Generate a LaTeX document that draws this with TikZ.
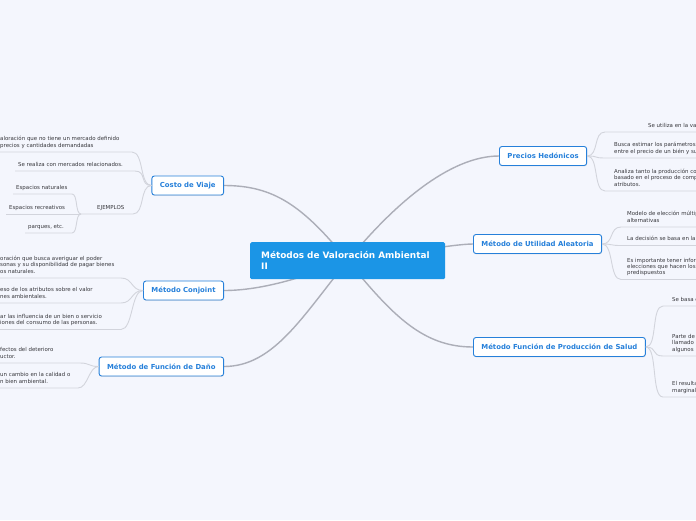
\documentclass[tikz,border=0pt]{standalone}
\usepackage{fontspec}
\setmainfont{DejaVu Sans}
\usetikzlibrary{backgrounds,shadows}

\definecolor{bgcol}{RGB}{244,246,253}
\definecolor{rootblue}{RGB}{27,149,230}
\definecolor{nodeblue}{RGB}{38,128,218}
\definecolor{branchgray}{RGB}{172,174,184}
\definecolor{twiggray}{RGB}{210,212,220}
\definecolor{leaftext}{RGB}{55,55,60}

\newcommand{\leaffont}{\fontsize{5.45}{6.4}\selectfont}
\newcommand{\topicfont}{\fontsize{6.9}{8}\selectfont\bfseries}
\newcommand{\rootfont}{\fontsize{8.9}{11}\selectfont\bfseries}

\begin{document}
\begin{tikzpicture}[x=1pt, y=-1pt,
  root/.style={fill=rootblue, rounded corners=1.5pt, text=white, font=\rootfont,
    anchor=north west, align=left, text width=173pt, inner xsep=11pt,
    minimum height=37pt},
  topic/.style={draw=nodeblue, line width=0.9pt, fill=white, rounded corners=2.5pt,
    text=nodeblue, font=\topicfont, inner xsep=8pt, inner ysep=0pt,
    minimum height=19pt,
    drop shadow={shadow xshift=0.4pt, shadow yshift=-0.9pt, opacity=0.18}},
  leaf/.style={font=\leaffont, text=leaftext, align=left, anchor=south west,
    inner xsep=3pt, inner ysep=3pt, text depth=1.5pt},
  branch/.style={draw=branchgray, line width=1.4pt},
  twig/.style={draw=twiggray, line width=0.9pt},
]
\useasboundingbox (0,0) rectangle (696,520);
\clip (0,0) rectangle (696,520);
\coordinate (edge) at (700,0);

% Root
\node[root] (root) at (250,242) {Métodos de Valoración Ambiental\\II};

% Main topics
\node[topic, anchor=east] (costo) at (224,185.5) {Costo de Viaje};
\node[topic, anchor=east] (conjoint) at (224,290.5) {Método Conjoint};
\node[topic, anchor=east] (dano) at (224,366.5) {Método de Función de Daño};
\node[topic, anchor=west] (hedonicos) at (499,156) {Precios Hedónicos};
\node[topic, anchor=west] (utilidad) at (473,244) {Método de Utilidad Aleatoria};
\node[topic, anchor=west] (salud) at (473,347) {Método Función de Producción de Salud};

% Costo de Viaje leaves
\node[leaf] (c1) at (-3,152) {aloración que no tiene un mercado definido\\precios y cantidades demandadas};
\node[leaf] (c2) at (15,171) {Se realiza con mercados relacionados.};
\node[leaf] (ej) at (94,214) {EJEMPLOS};
\node[leaf] (e1) at (13,194) {Espacios naturales};
\node[leaf] (e2) at (6,214) {Espacios recreativos};
\node[leaf] (e3) at (25,233) {parques, etc.};
\coordinate (c1u) at (132,152);
\coordinate (c2u) at (135,171);
\coordinate (eju) at (133,214);
\coordinate (ejj) at (81,214);
\coordinate (e1u) at (72,194);
\coordinate (e3u) at (72,233);

% Conjoint leaves
\node[leaf] (k1) at (-3,278) {oración que busca averiguar el poder\\sonas y su disponibilidad de pagar bienes\\os naturales.};
\node[leaf] (k2) at (-3,303) {eso de los atributos sobre el valor\\nes ambientales.};
\node[leaf] (k3) at (-3,329.5) {ar las influencia de un bien o servicio\\iones del consumo de las personas.};
\coordinate (k1u) at (121,278);
\coordinate (k2u) at (121,303);
\coordinate (k3u) at (121,329.5);

% Funcion de Dano leaves
\node[leaf] (d1) at (-3,363) {fectos del deterioro\\uctor.};
\node[leaf] (d2) at (-3,388) {un cambio en la calidad o\\n bien ambiental.};
\coordinate (d1u) at (80,363);
\coordinate (d2u) at (78,388);

% Precios Hedonicos leaves
\node[leaf] (h1) at (645,132) {Se utiliza en la valoración};
\node[leaf] (h2) at (611,158) {Busca estimar los parámetros de la\\entre el precio de un bién y sus};
\node[leaf] (h3) at (611,191) {Analiza tanto la producción como\\basado en el proceso de compra\\atributos.};
\coordinate (h1u) at (605,132);
\coordinate (h2u) at (605,158);
\coordinate (h3u) at (605,191);

% Utilidad Aleatoria leaves
\node[leaf] (u1) at (624,227) {Modelo de elección múltiple\\alternativas};
\node[leaf] (u2) at (624,245.5) {La decisión se basa en la};
\node[leaf] (u3) at (624,279.5) {Es importante tener información\\elecciones que hacen los\\predispuestos};
\coordinate (u1u) at (621,227);
\coordinate (u2u) at (621,245.5);
\coordinate (u3u) at (621,279.5);

% Produccion de Salud leaves
\node[leaf] (s1) at (669,306) {Se basa en};
\node[leaf] (s2) at (669,356) {Parte de un\\llamado\\algunos};
\node[leaf] (s3) at (669,397) {El resultado\\marginal};
\coordinate (s1u) at (663,306);
\coordinate (s2u) at (663,356);
\coordinate (s3u) at (663,397);

% Background and main branches
\begin{scope}[on background layer]
\fill[bgcol] (0,0) rectangle (696,520);
\draw[branch] (root.center) .. controls +(-45,-55) and +(50,0) .. (costo.east);
\draw[branch] (root.center) .. controls +(-40,15) and +(40,0) .. (conjoint.east);
\draw[branch] (root.center) .. controls +(-45,55) and +(50,0) .. (dano.east);
\draw[branch] (root.center) .. controls +(45,-55) and +(-50,0) .. (hedonicos.west);
\draw[branch] (root.center) .. controls +(40,-5) and +(-20,0) .. (utilidad.west);
\draw[branch] (root.center) .. controls +(45,55) and +(-50,0) .. (salud.west);
\end{scope}

% Twigs left
\draw[twig] (costo.west) .. controls +(-12,0) and +(12,0) .. (c1u) -- (c1.south west);
\draw[twig] (costo.west) .. controls +(-12,0) and +(12,0) .. (c2u) -- (c2.south west);
\draw[twig] (costo.west) .. controls +(-12,0) and +(12,0) .. (eju) -- (ejj);
\draw[twig] (ejj) .. controls +(-6,0) and +(6,0) .. (e1u) -- (e1.south west);
\draw[twig] (ejj) -- (e2.south west);
\draw[twig] (ejj) .. controls +(-6,0) and +(6,0) .. (e3u) -- (e3.south west);
\draw[twig] (conjoint.west) .. controls +(-12,0) and +(12,0) .. (k1u) -- (k1.south west);
\draw[twig] (conjoint.west) .. controls +(-12,0) and +(12,0) .. (k2u) -- (k2.south west);
\draw[twig] (conjoint.west) .. controls +(-12,0) and +(12,0) .. (k3u) -- (k3.south west);
\draw[twig] (dano.west) .. controls +(-10,0) and +(10,0) .. (d1u) -- (d1.south west);
\draw[twig] (dano.west) .. controls +(-10,0) and +(10,0) .. (d2u) -- (d2.south west);

% Twigs right
\draw[twig] (hedonicos.east) .. controls +(12,0) and +(-12,0) .. (h1u) -- (h1u -| edge);
\draw[twig] (hedonicos.east) .. controls +(12,0) and +(-12,0) .. (h2u) -- (h2u -| edge);
\draw[twig] (hedonicos.east) .. controls +(12,0) and +(-12,0) .. (h3u) -- (h3u -| edge);
\draw[twig] (utilidad.east) .. controls +(12,0) and +(-12,0) .. (u1u) -- (u1u -| edge);
\draw[twig] (utilidad.east) .. controls +(12,0) and +(-12,0) .. (u2u) -- (u2u -| edge);
\draw[twig] (utilidad.east) .. controls +(12,0) and +(-12,0) .. (u3u) -- (u3u -| edge);
\draw[twig] (salud.east) .. controls +(12,0) and +(-12,0) .. (s1u) -- (s1u -| edge);
\draw[twig] (salud.east) .. controls +(12,0) and +(-12,0) .. (s2u) -- (s2u -| edge);
\draw[twig] (salud.east) .. controls +(12,0) and +(-12,0) .. (s3u) -- (s3u -| edge);

\end{tikzpicture}
\end{document}
